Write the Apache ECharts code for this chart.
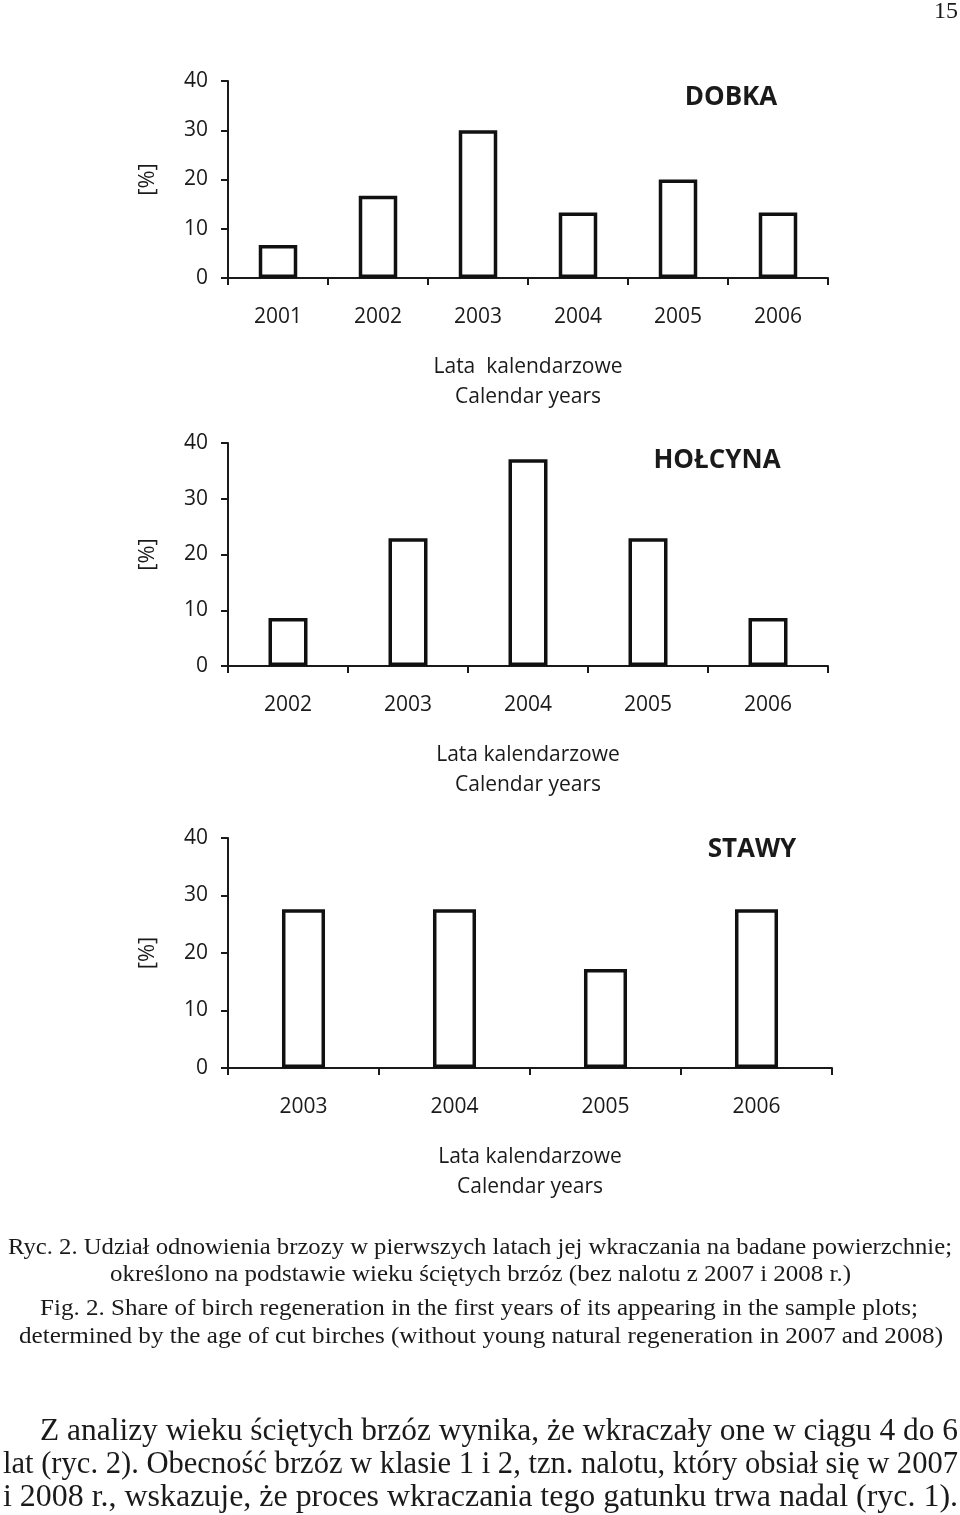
<!DOCTYPE html>
<html><head><meta charset="utf-8">
<script src="https://cdn.jsdelivr.net/npm/echarts@6/dist/echarts.min.js"></script>
<style>html,body{margin:0;padding:0;background:#fff}#c{width:960px;height:1515px}</style>
</head><body><div id="c"></div>
<script>
// ---- data ----
const dobkaYears = ['2001', '2002', '2003', '2004', '2005', '2006'];
const dobkaValues = [6.7, 16.7, 30.0, 13.3, 20.0, 13.3];
const holcynaYears = ['2002', '2003', '2004', '2005', '2006'];
const holcynaValues = [8.6, 22.9, 37.1, 22.9, 8.6];
const stawyYears = ['2003', '2004', '2005', '2006'];
const stawyValues = [27.6, 27.6, 17.2, 27.6];
const yMin = 0, yMax = 40, yStep = 10;
const panelTitles = ['DOBKA', 'HOŁCYNA', 'STAWY'];
const xAxisNames = ['Lata  kalendarzowe\nCalendar years', 'Lata kalendarzowe\nCalendar years', 'Lata kalendarzowe\nCalendar years'];
const yAxisName = '[%]';
const pageNumber = '15';
const captionLines = [
  'Ryc. 2. Udział odnowienia brzozy w pierwszych latach jej wkraczania na badane powierzchnie;',
  'określono na podstawie wieku ściętych brzóz (bez nalotu z 2007 i 2008 r.)',
  'Fig. 2. Share of birch regeneration in the first years of its appearing in the sample plots;',
  'determined by the age of cut birches (without young natural regeneration in 2007 and 2008)'
];
const bodyLines = [
  'Z analizy wieku ściętych brzóz wynika, że wkraczały one w ciągu 4 do 6',
  'lat (ryc. 2). Obecność brzóz w klasie 1 i 2, tzn. nalotu, który obsiał się w 2007',
  'i 2008 r., wskazuje, że proces wkraczania tego gatunku trwa nadal (ryc. 1).'
];

// ---- layout ----
const INK = '#1a1a1a';
const SANS = '"Open Sans", sans-serif';
const SERIF = '"Liberation Serif", serif';
const grids = [
  { left: 228, top: 81, width: 600, height: 197 },
  { left: 228, top: 443, width: 600, height: 223 },
  { left: 228, top: 838, width: 604, height: 230 }
];
const barWidths = ['38.5%', '32.5%', '28.5%'];
const titlePos = [[731, 98], [717, 461], [752, 850]];
const captionPos = [[8, 952, 1248], [110, 851, 1275], [40, 918, 1309], [19, 943, 1337]];
const bodyPos = [[40, 958, 1432], [3, 958, 1465], [3, 958, 1498]];

const cats = [dobkaYears, holcynaYears, stawyYears];
const vals = [dobkaValues, holcynaValues, stawyValues];

const ctx = document.createElement('canvas').getContext('2d');
function fitText(text, font, left, right, y) {
  ctx.font = font;
  const w = ctx.measureText(text).width;
  return {
    type: 'text', x: left, y: y, scaleX: (right - left) / w,
    style: { text: text, font: font, fill: INK, textAlign: 'left', textVerticalAlign: 'middle', align: 'left', verticalAlign: 'middle' }
  };
}

const option = {
  backgroundColor: '#fff',
  animation: false,
  grid: grids.map(g => Object.assign({ containLabel: false }, g)),
  xAxis: cats.map((c, i) => ({
    type: 'category', gridIndex: i, data: c, boundaryGap: true,
    axisLine: { show: true, lineStyle: { color: INK, width: 2 } },
    axisTick: { show: true, alignWithLabel: false, length: 7, lineStyle: { color: INK, width: 2 } },
    axisLabel: { fontFamily: SANS, fontSize: 21, color: INK, margin: 29 },
    name: xAxisNames[i], nameLocation: 'middle', nameGap: 74,
    nameTextStyle: { fontFamily: SANS, fontSize: 21, color: INK, lineHeight: 30 },
    splitLine: { show: false }
  })),
  yAxis: cats.map((c, i) => ({
    type: 'value', gridIndex: i, min: yMin, max: yMax, interval: yStep,
    axisLine: { show: true, lineStyle: { color: INK, width: 2 } },
    axisTick: { show: true, length: 7, lineStyle: { color: INK, width: 2 } },
    axisLabel: { fontFamily: SANS, fontSize: 21, color: INK, margin: 20 },
    splitLine: { show: false },
    name: yAxisName, nameLocation: 'middle', nameRotate: 90, nameGap: 69,
    nameTextStyle: { fontFamily: SANS, fontSize: 22, color: INK }
  })),
  series: vals.map((v, i) => ({
    type: 'bar', xAxisIndex: i, yAxisIndex: i, data: v, barWidth: barWidths[i],
    itemStyle: { color: '#ffffff', borderColor: '#111111', borderWidth: 3.5 }
  })),
  graphic: [].concat(
    panelTitles.map((t, i) => ({
      type: 'text', x: titlePos[i][0], y: titlePos[i][1],
      style: { text: t, font: 'bold 26px ' + SANS, fill: INK, textAlign: 'center', textVerticalAlign: 'middle', align: 'center', verticalAlign: 'middle' }
    })),
    [{
      type: 'text', x: 958, y: 12,
      style: { text: pageNumber, font: '24px ' + SERIF, fill: INK, textAlign: 'right', textVerticalAlign: 'middle', align: 'right', verticalAlign: 'middle' }
    }],
    captionLines.map((t, i) => fitText(t, '23px ' + SERIF, captionPos[i][0], captionPos[i][1], captionPos[i][2])),
    bodyLines.map((t, i) => fitText(t, '31px ' + SERIF, bodyPos[i][0], bodyPos[i][1], bodyPos[i][2]))
  )
};

const chart = echarts.init(document.getElementById('c'), null, { renderer: 'canvas', width: 960, height: 1515 });
chart.setOption(option);
</script>
</body></html>
